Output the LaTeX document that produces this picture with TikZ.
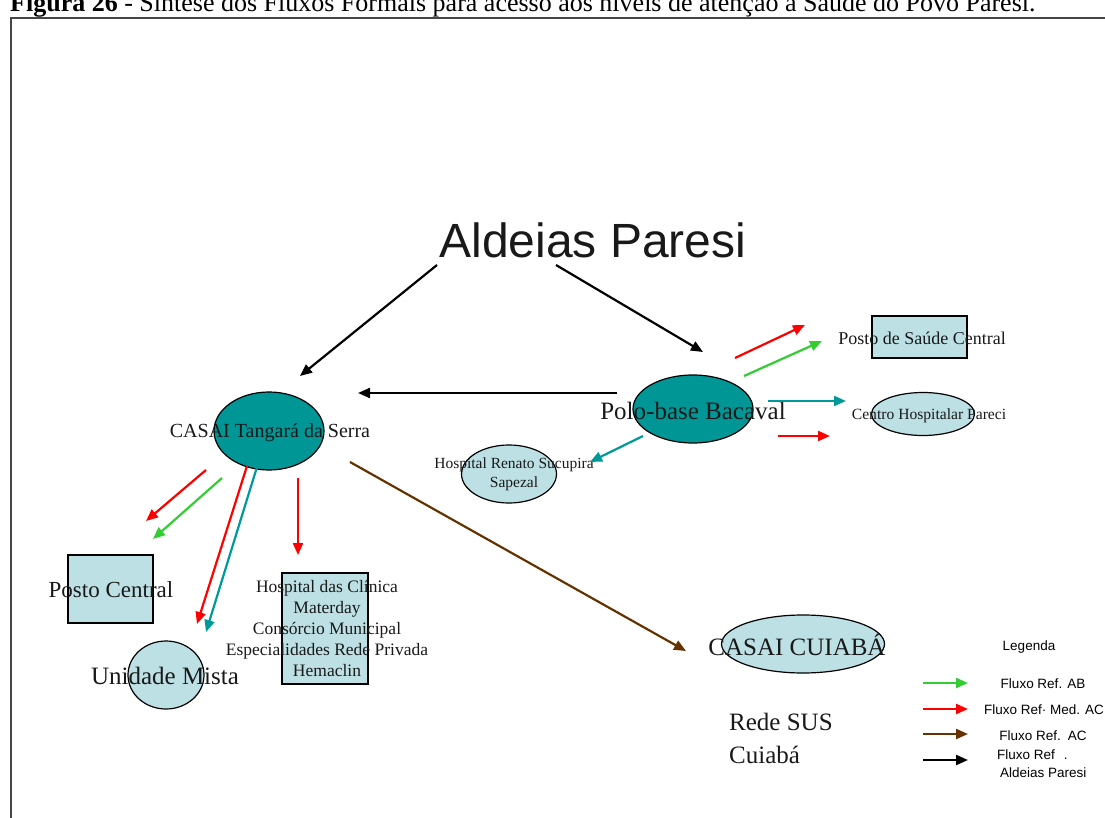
\documentclass[tikz,border=0pt]{standalone}
\usepackage{fontspec}
\setmainfont{Liberation Serif}
\newfontfamily\sansf{Liberation Sans}
\usetikzlibrary{arrows.meta,shapes.geometric}

\definecolor{paleblue}{RGB}{189,224,228}
\definecolor{tealfill}{RGB}{0,150,150}
\definecolor{flowteal}{RGB}{0,153,153}
\definecolor{flowgreen}{RGB}{51,204,51}
\definecolor{flowred}{RGB}{255,0,0}
\definecolor{flowbrown}{RGB}{102,51,0}
\definecolor{framegray}{RGB}{70,70,70}

\tikzset{
  flow/.style={line width=2.2pt, -{Triangle[length=12pt,width=10pt]}},
  flowab/.style={flow, draw=flowgreen},
  flowmed/.style={flow, draw=flowred},
  flowac/.style={flow, draw=flowbrown},
  flowvil/.style={flow, draw=black},
  flowcasai/.style={flow, draw=flowteal},
  oval/.style={ellipse, draw, line width=1.2pt, inner sep=0pt},
  box/.style={rectangle, draw, line width=1.2pt, fill=paleblue, inner sep=0pt},
  lbl/.style={inner sep=0pt, align=center, text=black!90},
  leg/.style={inner sep=0pt, align=center, font=\sansf\fontsize{13.5}{16}\selectfont},
}

\begin{document}
\begin{tikzpicture}[x=1pt,y=-1pt]
\useasboundingbox (0,0) rectangle (1105,818);
\clip (0,0) rectangle (1105,818);

% caption, partly cut by the page edge
\node[anchor=base west, inner sep=0pt, font=\fontsize{26}{30}\selectfont] (title) at (10,12)
  {\textbf{Figura 26} - Síntese dos Fluxos Formais para acesso aos níveis de atenção à Saúde do Povo Paresi.};

% frame
\draw[framegray, line width=1.5pt] (11,840) |- (1120,18);

% ---------- shapes ----------
\node[oval, fill=tealfill, minimum width=110pt, minimum height=78pt] (casaiT) at (269,431) {};
\node[oval, fill=tealfill, minimum width=120pt, minimum height=68pt] (polo) at (693,409) {};
\node[oval, fill=paleblue, minimum width=95pt, minimum height=58pt] (renato) at (509,474) {};
\node[oval, fill=paleblue, minimum width=103pt, minimum height=43pt] (pareci) at (923,414) {};
\node[box, minimum width=95pt, minimum height=42pt] (postoSC) at (919.5,337) {};
\node[box, minimum width=85pt, minimum height=68pt] (postoC) at (110.5,589) {};
\node[oval, fill=paleblue, minimum width=76pt, minimum height=68pt] (mista) at (166,675) {};
\node[box, minimum width=86pt, minimum height=111pt] (hosp) at (325,628.5) {};
\node[oval, fill=paleblue, minimum width=163pt, minimum height=58pt] (cuiaba) at (803,644) {};

% ---------- texts ----------
\node[lbl, font=\sansf\fontsize{48}{56}\selectfont] (aldeias) at (593,240) {Aldeias Paresi};
\node[lbl, font=\fontsize{20}{24}\selectfont] (casaiT-txt) at (270,433) {CASAI Tangará da Serra};
\node[lbl, font=\fontsize{25}{30}\selectfont] (polo-txt) at (693,411) {Polo-base Bacaval};
\node[lbl, font=\fontsize{15.5}{19}\selectfont] (renato-txt) at (514,474) {Hospital Renato Sucupira\\Sapezal};
\node[lbl, font=\fontsize{15.6}{19}\selectfont] (pareci-txt) at (929,416) {Centro Hospitalar Pareci};
\node[lbl, font=\fontsize{18}{22}\selectfont] (postoSC-txt) at (922,338) {Posto de Saúde Central};
\node[lbl, font=\fontsize{23}{28}\selectfont] (postoC-txt) at (111,590) {Posto Central};
\node[lbl, font=\fontsize{25}{30}\selectfont] (mista-txt) at (165,676) {Unidade Mista};
\node[lbl, font=\fontsize{17.5}{21}\selectfont] (hosp-txt) at (327,628)
  {Hospital das Clínica\\Materday\\Consórcio Municipal\\Especialidades Rede Privada\\Hemaclin};
\node[lbl, font=\fontsize{25}{30}\selectfont] (cuiaba-txt) at (797,645) {CASAI CUIABÁ};
\node[lbl, anchor=west, align=left, font=\fontsize{25}{33}\selectfont] (sus) at (729,738) {Rede SUS\\Cuiabá};

% ---------- connector end points ----------
\coordinate (vilL-s) at (437,265);  \coordinate (vilL-e) at (300,376);
\coordinate (vilR-s) at (556,265);  \coordinate (vilR-e) at (703,352);
\coordinate (polo-w) at (617,393);  \coordinate (casaiT-ne) at (358,393);
\coordinate (polo-sw) at (643,436); \coordinate (renato-ne) at (590,462);
\coordinate (polo-e) at (768,401);  \coordinate (pareci-w) at (846,401);
\coordinate (polo-r1) at (735,358); \coordinate (postoSC-r1) at (805,325);
\coordinate (polo-g1) at (744,376); \coordinate (postoSC-g1) at (822,341);
\coordinate (polo-r2) at (778,436); \coordinate (pareci-r2) at (830,436);
\coordinate (casaiT-r1) at (206,470); \coordinate (postoC-r1) at (146,521);
\coordinate (casaiT-g1) at (222,478); \coordinate (postoC-g1) at (153,539);
\coordinate (casaiT-r2) at (247,466); \coordinate (mista-r2) at (197,624);
\coordinate (casaiT-t1) at (257,467); \coordinate (mista-t1) at (206,632);
\coordinate (casaiT-r3) at (298,478); \coordinate (hosp-r3) at (298,555);
\coordinate (casaiT-b1) at (350,462); \coordinate (cuiaba-b1) at (686,651);

% ---------- flows ----------
\draw[flowvil] (vilL-s) -- (vilL-e);
\draw[flowvil] (vilR-s) -- (vilR-e);
\draw[flowvil] (polo-w) -- (casaiT-ne);
\draw[flowcasai] (polo-sw) -- (renato-ne);
\draw[flowcasai] (polo-e) -- (pareci-w);
\draw[flowmed] (polo-r1) -- (postoSC-r1);
\draw[flowab] (polo-g1) -- (postoSC-g1);
\draw[flowmed] (polo-r2) -- (pareci-r2);
\draw[flowmed] (casaiT-r1) -- (postoC-r1);
\draw[flowab] (casaiT-g1) -- (postoC-g1);
\draw[flowmed] (casaiT-r2) -- (mista-r2);
\draw[flowcasai] (casaiT-t1) -- (mista-t1);
\draw[flowmed] (casaiT-r3) -- (hosp-r3);
\draw[flowac] (casaiT-b1) -- (cuiaba-b1);

% ---------- legend ----------
\node[leg] (legenda) at (1029,647) {Legenda};
\coordinate (kAB-s) at (923,683);  \coordinate (kAB-e) at (968,683);
\coordinate (kMed-s) at (923,709); \coordinate (kMed-e) at (968,709);
\coordinate (kAC-s) at (923,734);  \coordinate (kAC-e) at (968,734);
\coordinate (kVil-s) at (923,760); \coordinate (kVil-e) at (968,760);
\draw[flowab] (kAB-s) -- (kAB-e);
\draw[flowmed] (kMed-s) -- (kMed-e);
\draw[flowac] (kAC-s) -- (kAC-e);
\draw[flowvil] (kVil-s) -- (kVil-e);
\node[leg] (legAB) at (1043,684) {Fluxo Ref. AB};
\node[leg] (legMed) at (1044,710) {Fluxo Ref· Med. AC};
\node[leg] (legAC) at (1043,736) {Fluxo Ref.\hspace{7pt}AC};
\node[leg, anchor=north west, align=left, font=\sansf\fontsize{13.5}{18}\selectfont] (legVil) at (997,750)
  {Fluxo Ref\hspace{9pt}.\\\hspace{3pt}Aldeias Paresi};
\end{tikzpicture}
\end{document}
